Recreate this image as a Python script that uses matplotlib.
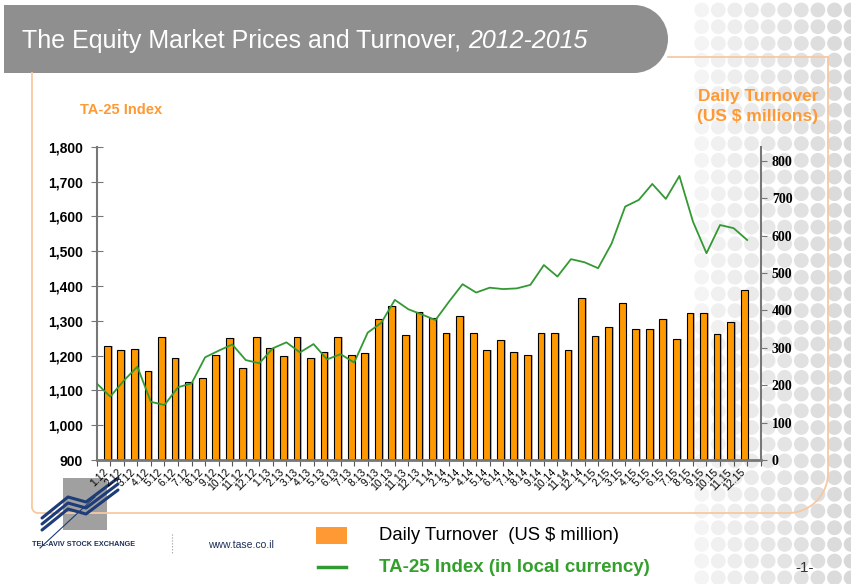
import matplotlib.pyplot as plt
import numpy as np
from matplotlib.patches import Rectangle, Ellipse, Circle, Arc

# month labels 1.12 ... 12.15
months = [f"{m}.{y}" for y in (12, 13, 14, 15) for m in range(1, 13)]

# daily turnover, US $ million (right axis, bars)
turnover = [304, 295, 297, 239, 328, 272, 209, 220, 280, 327, 246, 328,
            300, 279, 328, 274, 288, 328, 280, 287, 376, 412, 334, 395,
            380, 340, 386, 340, 293, 321, 290, 280, 340, 340, 293, 433,
            332, 355, 420, 350, 350, 378, 324, 392, 392, 337, 368, 456]

# TA-25 index at month ends, Dec 2011 .. Dec 2015 (left axis, line)
ta25 = [1120, 1082, 1128, 1168, 1067, 1058, 1109, 1120, 1195, 1214, 1232, 1187,
        1178, 1221, 1238, 1209, 1233, 1189, 1204, 1180, 1266, 1294, 1360, 1333,
        1318, 1302, 1355, 1405, 1381, 1395, 1391, 1393, 1403, 1460, 1427, 1477,
        1468, 1451, 1522, 1628, 1647, 1693, 1650, 1716, 1585, 1494, 1575, 1566,
        1532]

W, H = 851, 584
fig = plt.figure(figsize=(W / 100, H / 100), dpi=100)

# background layer in pixel coords
bg = fig.add_axes([0, 0, 1, 1], zorder=-1)
bg.set_xlim(0, W)
bg.set_ylim(H, 0)
bg.axis('off')

# dotted grey pattern on the right
for j in range(10):
    g = 0.955 - 0.012 * j
    for r in range(36):
        bg.add_patch(Circle((701.7 + 16.6 * j, 10 + 16.7 * r), 7.4,
                            color=(g, g, g), lw=0))

# title banner
banner = '#8f8f8f'
bg.add_patch(Rectangle((4, 5), 630, 68, color=banner, lw=0))
bg.add_patch(Ellipse((634, 39), 68, 68, color=banner, lw=0))

# thin orange frame
fc = '#f7c9a0'
bg.plot([668, 828], [57, 57], color=fc, lw=1.3)
bg.plot([828, 828], [57, 473], color=fc, lw=1.3)
bg.add_patch(Arc((788, 473), 80, 80, theta1=0, theta2=90, color=fc, lw=1.3))
bg.plot([38, 788], [513, 513], color=fc, lw=1.3)
bg.plot([32, 32], [73, 507], color=fc, lw=1.3)
bg.add_patch(Arc((38, 507), 12, 12, theta1=90, theta2=180, color=fc, lw=1.3))

# logo
bg.add_patch(Rectangle((63, 478), 44, 52, color='#a0a0a0', lw=0))
navy = '#1d3c78'
for d in (0, 6, 12):
    bg.plot([42, 68, 86, 118], [530 - d, 509 - d, 514 - d, 490 - d],
            color=navy, lw=2.2, solid_capstyle='round')
bg.plot([40, 95], [548, 497], color=navy, lw=0.8)
bg.text(32, 545, 'TEL-AVIV STOCK EXCHANGE', fontsize=5.2, fontweight='bold',
        color='#1d2f5c', va='center', family='Liberation Sans')
bg.plot([172, 172], [534, 554], color='#999999', lw=0.8, ls=':')
bg.text(208, 545, 'www.tase.co.il', fontsize=7.5, color='#1d2f5c', va='center',
        family='Liberation Sans')

# title, upright part then italic years
t1 = bg.text(22, 41, 'The Equity Market Prices and Turnover, ', fontsize=18,
             color='white', va='center', family='Liberation Sans')
fig.canvas.draw()
x_end = t1.get_window_extent().x1
bg.text(x_end, 41, '2012-2015', fontsize=18, style='italic', color='white',
        va='center', family='Liberation Sans')

orange = '#ff9933'
bg.text(80, 110, 'TA-25 Index', fontsize=10.5, fontweight='bold', color=orange,
        va='center', family='Liberation Sans')
bg.text(818, 97, 'Daily Turnover', fontsize=12.5, fontweight='bold', color=orange,
        va='center', ha='right', family='Liberation Sans')
bg.text(818, 117, '(US $ millions)', fontsize=12.5, fontweight='bold', color=orange,
        va='center', ha='right', family='Liberation Sans')

# legend
bg.add_patch(Rectangle((316, 527), 31, 17, color=orange, lw=0))
bg.text(379, 535, 'Daily Turnover  (US $ million)', fontsize=13.3, color='black',
        va='center', family='Liberation Sans')
bg.plot([318, 346], [567, 567], color='#339933', lw=2.5)
bg.text(379, 567, 'TA-25 Index (in local currency)', fontsize=13.5, fontweight='bold',
        color='#33a02c', va='center', family='Liberation Sans')
bg.text(805, 568, '-1-', fontsize=11, color='#333333', va='center', ha='center',
        family='Liberation Sans')

# main chart: bars on the right axis, line on the left axis (drawn on top)
ax = fig.add_axes([96.7 / W, 1 - 460 / H, (760.7 - 96.7) / W, (460 - 146.7) / H])
ax.patch.set_alpha(0)
x = np.arange(len(turnover)) + 0.78
ax.bar(x + 0.14, turnover, width=0.5, color='#8a8a8a', alpha=0.6, lw=0, zorder=1)
ax.bar(x, turnover, width=0.5, color='#ff9900', edgecolor='black', lw=0.8, zorder=2)
ax.set_xlim(0, 49)
ax.set_ylim(0, 838)

ax.set_xticks(np.arange(0, 50))
ax.set_xticklabels([])
ax.tick_params(axis='x', which='major', direction='out', length=4, color='#555555')
ax.set_xticks(np.arange(len(months)) + 0.5, minor=True)
ax.set_xticklabels(months, minor=True, rotation=45, ha='right', va='top',
                   rotation_mode='anchor', fontsize=7.5, family='Liberation Sans')
ax.tick_params(axis='x', which='minor', length=0, pad=5)

ax2 = ax.twinx()
ax2.plot(np.arange(len(ta25)), ta25, color='#339933', lw=1.3, zorder=3)
ax2.set_ylim(900, 1800)

# twinx moves the ticks, so set sides afterwards
ax.yaxis.tick_right()
ax.set_yticks(range(0, 801, 100))
ax.set_yticklabels([str(v) for v in range(0, 801, 100)], family='Liberation Serif',
                   fontweight='bold', fontsize=10)
ax.tick_params(axis='y', direction='out', length=4, color='#777777', pad=4)

ax2.yaxis.tick_left()
ax2.set_yticks(range(900, 1801, 100))
ax2.set_yticklabels([f"{v:,}" for v in range(900, 1801, 100)], family='Liberation Sans',
                    fontweight='bold', fontsize=10)
ax2.tick_params(axis='y', direction='inout', length=8, color='#777777', pad=6)

for s in ('top', 'left'):
    ax.spines[s].set_visible(False)
ax.spines['right'].set_color('#777777')
ax.spines['right'].set_linewidth(1.5)
ax.spines['bottom'].set_color('#777777')
ax.spines['bottom'].set_linewidth(2)
for s in ('top', 'right', 'bottom'):
    ax2.spines[s].set_visible(False)
ax2.spines['left'].set_color('#777777')
ax2.spines['left'].set_linewidth(1.5)

fig.savefig('out.png', dpi=100)
